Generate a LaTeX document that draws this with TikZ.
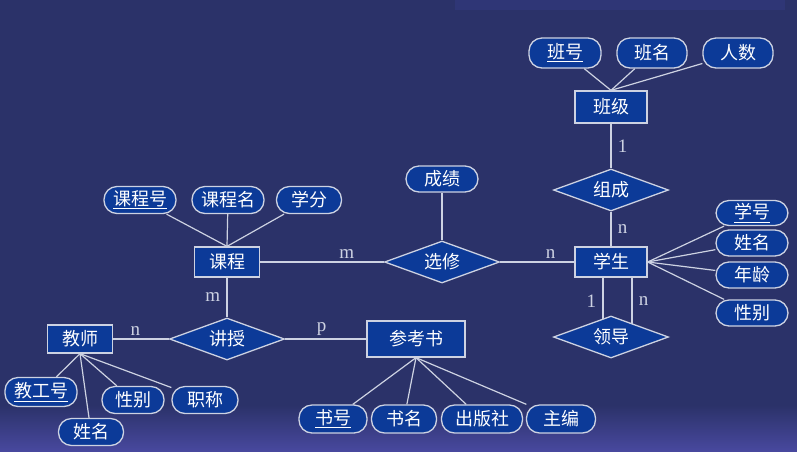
\documentclass[tikz,border=0pt]{standalone}
\usepackage{fontspec}
\setmainfont{Liberation Serif}
\newfontfamily\cjk{Noto Sans CJK SC}
\usetikzlibrary{shapes.geometric,positioning,backgrounds}
\definecolor{navy}{RGB}{43,50,105}
\definecolor{lowband}{RGB}{72,72,158}
\definecolor{topband}{RGB}{47,54,118}
\definecolor{boxblue}{RGB}{12,58,152}
\definecolor{edgegray}{RGB}{205,210,226}
\pgfdeclarelayer{back}
\pgfsetlayers{back,background,main}

\begin{document}
\begin{tikzpicture}[x=1pt, y=-1pt,
		every node/.style={font=\cjk\fontsize{18}{20}\selectfont, text=white},
		entity/.style={draw=edgegray, line width=1.3pt, fill=boxblue, inner sep=0pt, minimum width=70pt, minimum height=30pt},
		attr/.style={entity, rounded corners=13pt, minimum height=27pt, minimum width=66pt, inner xsep=3pt},
		rel/.style={entity, diamond, aspect=2.7, minimum width=115pt, minimum height=42pt},
		conn/.style={draw=edgegray, line width=1.2pt},
		card/.style={font=\fontsize{19}{20}\selectfont, text=edgegray}
	]
		\begin{pgfonlayer}{back}
			\fill[navy] (0,0) rectangle (797,451);
			\fill[topband] (455,0) rectangle (785,10);
			\shade[top color=navy, bottom color=lowband] (0,405) rectangle (797,451);
		\end{pgfonlayer}
		\useasboundingbox (0,0) rectangle (797,451);

		% entities
		\node[entity, minimum width=72pt, minimum height=32pt] (class) at (611,107) {班级};
		\node[entity, minimum width=72pt] (student) at (611,262) {学生};
		\node[entity, minimum width=65pt] (course) at (227,262) {课程};
		\node[entity, minimum width=65pt, minimum height=28pt] (teacher) at (80,339) {教师};
		\node[entity, minimum width=98pt, minimum height=36pt] (book) at (416,339) {参考书};

		% relationships
		\node[rel] (consist) at (611,190) {组成};
		\node[rel] (elect) at (442,262) {选修};
		\node[rel] (lead) at (611,337) {领导};
		\node[rel] (teach) at (227,339) {讲授};

		% attributes
		\node[attr, minimum width=72pt, minimum height=30pt] (clsno) at (565,53) {\underline{班号}};
		\node[attr, minimum width=70pt, minimum height=30pt] (clsname) at (652,53) {班名};
		\node[attr, minimum width=70pt, minimum height=30pt] (clsnum) at (738,53) {人数};
		\node[attr, minimum width=72pt, minimum height=25pt] (stuno) at (752,213) {\underline{学号}};
		\node[attr, minimum width=72pt, minimum height=26pt] (stuname) at (752,243) {姓名};
		\node[attr, minimum width=72pt, minimum height=26pt] (stuage) at (752,275) {年龄};
		\node[attr, minimum width=72pt, minimum height=26pt] (stusex) at (752,313) {性别};
		\node[attr, minimum width=72pt, minimum height=26pt] (score) at (442,179) {成绩};
		\node[attr, minimum width=72pt] (crsno) at (140,200) {\underline{课程号}};
		\node[attr, minimum width=72pt] (crsname) at (228,200) {课程名};
		\node[attr, minimum width=65pt] (credit) at (309,200) {学分};
		\node[attr, minimum width=72pt, minimum height=29pt] (teano) at (41,392) {\underline{教工号}};
		\node[attr, minimum width=65pt] (teaname) at (91,432) {姓名};
		\node[attr, minimum width=62pt] (teasex) at (133,400) {性别};
		\node[attr, minimum width=66pt] (teatitle) at (205,400) {职称};
		\node[attr, minimum width=68pt, minimum height=28pt] (bookno) at (333,419) {\underline{书号}};
		\node[attr, minimum width=65pt, minimum height=28pt] (bookname) at (404,419) {书名};
		\node[attr, minimum width=81pt, minimum height=28pt] (press) at (482,419) {出版社};
		\node[attr, minimum width=69pt, minimum height=28pt] (editor) at (561,419) {主编};

		\begin{pgfonlayer}{background}
			% relationship lines
			\draw[conn] (class) -- node[card, right=3pt] {1} (consist);
			\draw[conn] (consist) -- node[card, right=3pt] {n} (student);
			\draw[conn] (course) -- node[card, above, pos=0.7] {m} (elect);
			\draw[conn] (elect) -- node[card, above, pos=0.68] {n} (student);
			\draw[conn] (score) -- (elect);
			\draw[conn] ([xshift=-8pt]student.south) -- node[card, left=3pt, pos=0.4] {1} ([xshift=-8pt]student.south |- lead.center);
			\draw[conn] ([xshift=21pt]student.south) -- node[card, right=3pt, pos=0.4] {n} ([xshift=21pt]student.south |- lead.center);
			\draw[conn] (course) -- node[card, left=3pt] {m} (teach);
			\draw[conn] (teacher) -- node[card, above, pos=0.4] {n} (teach);
			\draw[conn] (teach) -- node[card, above, pos=0.45] {p} (book);

			% attribute lines
			\draw[conn] (class.north) -- (clsno);
			\draw[conn] (class.north) -- (clsname);
			\draw[conn] (class.north) -- (clsnum);
			\draw[conn] (student.east) -- (stuno);
			\draw[conn] (student.east) -- (stuname);
			\draw[conn] (student.east) -- (stuage);
			\draw[conn] (student.east) -- (stusex);
			\draw[conn] (course.north) -- (crsno);
			\draw[conn] (course.north) -- (crsname);
			\draw[conn] (course.north) -- (credit);
			\draw[conn] (teacher.south) -- (teano);
			\draw[conn] (teacher.south) -- (teaname);
			\draw[conn] (teacher.south) -- (teasex);
			\draw[conn] (teacher.south) -- (teatitle);
			\draw[conn] (book.south) -- (bookno);
			\draw[conn] (book.south) -- (bookname);
			\draw[conn] (book.south) -- (press);
			\draw[conn] (book.south) -- (editor);
		\end{pgfonlayer}
\end{tikzpicture}
\end{document}
